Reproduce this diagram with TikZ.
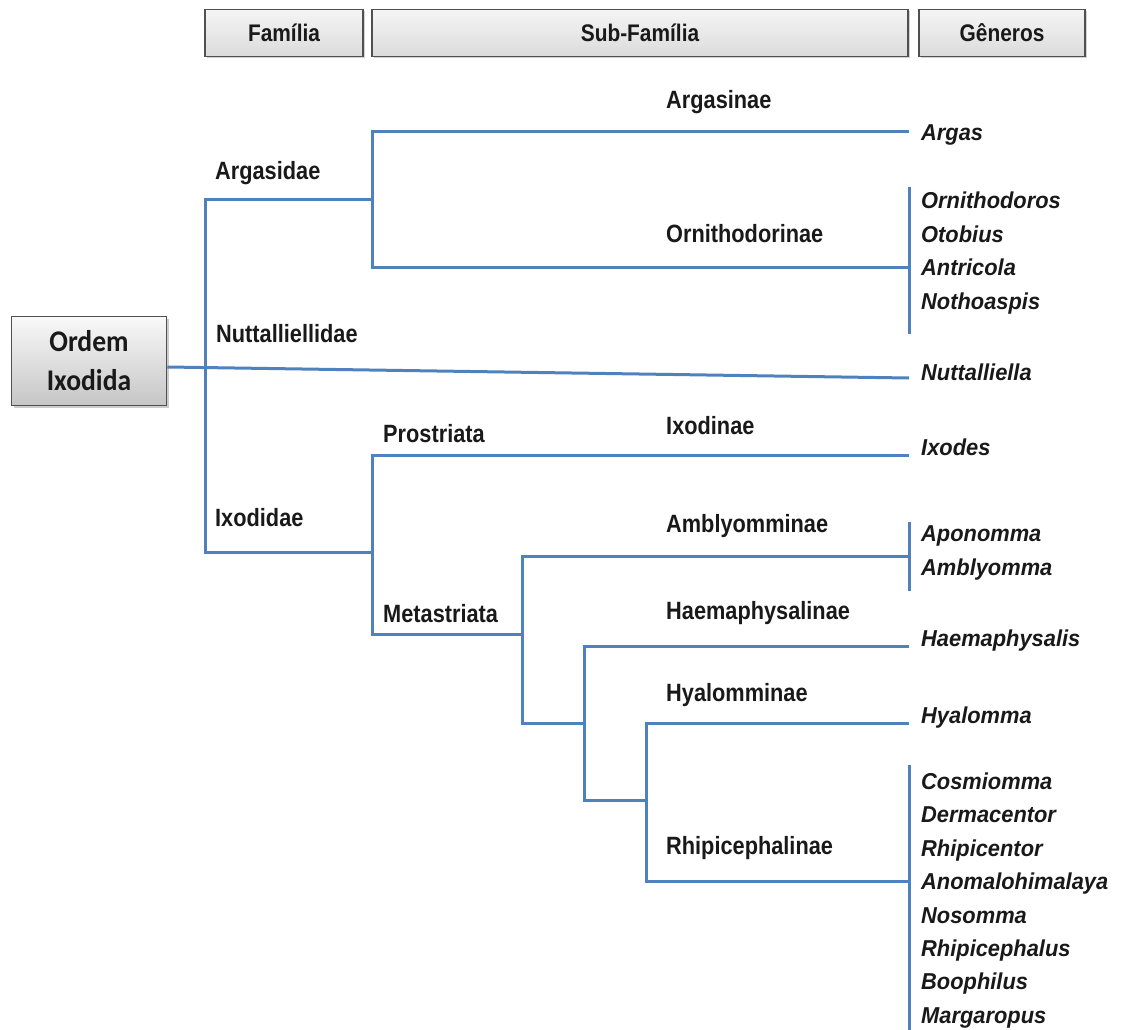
\documentclass[tikz,border=0pt]{standalone}
\usepackage{fontspec}
\usepackage{tikz}
\usetikzlibrary{calc,shadows}
\newfontfamily\lblfont{Liberation Sans}[FakeStretch=0.87]
\newfontfamily\genfont{Liberation Sans}[FakeStretch=0.95]
\newfontfamily\boxfont{Carlito}[FakeStretch=0.92]
\definecolor{brblue}{HTML}{4F81BD}
\definecolor{boxline}{HTML}{505050}

\begin{document}
\begin{tikzpicture}[
x=1pt,y=-1pt,
every node/.style={inner sep=0pt,text=black!90},
br/.style={line width=3pt,color=brblue},
hdr/.style={draw=boxline,line width=1.8pt,top color=gray!8,bottom color=gray!28,
  minimum height=47pt,font=\lblfont\bfseries\fontsize{24}{28}\selectfont,
  drop shadow={shadow xshift=1.5pt,shadow yshift=-1.5pt,opacity=0.35}},
ordem/.style={draw=boxline,line width=1.8pt,top color=gray!5,bottom color=gray!45,
  minimum width=155pt,minimum height=89pt,align=center,
  font=\boxfont\bfseries\fontsize{30}{39}\selectfont,
  drop shadow={shadow xshift=2pt,shadow yshift=-2pt,opacity=0.4}},
lbl/.style={anchor=west,text height=18pt,text depth=0pt,
  font=\lblfont\bfseries\fontsize{25}{30}\selectfont},
gen/.style={anchor=west,text height=17pt,text depth=0pt,
  font=\genfont\bfseries\itshape\fontsize{23}{28}\selectfont}
]
\useasboundingbox (0,0) rectangle (1121,1030);

% headers
\node[hdr,minimum width=158pt] (hfam) at (284,33) {Família};
\node[hdr,minimum width=536pt] (hsub) at (640,33) {Sub-Família};
\node[hdr,minimum width=166pt] (hgen) at (1002,33) {Gêneros};

\node[ordem] (ord) at (89,361) {Ordem\\Ixodida};

% branch points
\coordinate (fa) at (205,199);
\coordinate (fb) at (205,552);
\coordinate (arg) at (372,199);
\coordinate (ixo) at (372,552);
\coordinate (met) at (522,634);
\coordinate (hae) at (584,723);
\coordinate (hya) at (646,800);
% branch ends
\coordinate (e1) at (909,132);
\coordinate (e2) at (909,267);
\coordinate (e3) at (909,378);
\coordinate (e4) at (909,455);
\coordinate (e5) at (909,556);
\coordinate (e6) at (909,646);
\coordinate (e7) at (909,723);
\coordinate (e8) at (909,881);

% families and sub-families
\node[lbl] (argd) at (215,170) {Argasidae};
\node[lbl] (nutd) at (216,333) {Nuttalliellidae};
\node[lbl] (ixod) at (215,517) {Ixodidae};
\node[lbl] (argn) at (666,100) {Argasinae};
\node[lbl] (ornn) at (666,233) {Ornithodorinae};
\node[lbl] (pros) at (383,433) {Prostriata};
\node[lbl] (ixon) at (666,425) {Ixodinae};
\node[lbl] (meta) at (383,613) {Metastriata};
\node[lbl] (ambn) at (666,523) {Amblyomminae};
\node[lbl] (haen) at (666,610) {Haemaphysalinae};
\node[lbl] (hyan) at (666,692) {Hyalomminae};
\node[lbl] (rhin) at (666,845) {Rhipicephalinae};

% genera
\node[gen] (args) at (921,132) {Argas};
\foreach \g [count=\i from 0] in {Ornithodoros,Otobius,Antricola,Nothoaspis}
  \node[gen] (orn\i) at (921,{200+33.5*\i}) {\g};
\node[gen] (nuta) at (921,372) {Nuttalliella};
\node[gen] (ixos) at (921,447) {Ixodes};
\foreach \g [count=\i from 0] in {Aponomma,Amblyomma}
  \node[gen] (amb\i) at (921,{533+34*\i}) {\g};
\node[gen] (haes) at (921,638) {Haemaphysalis};
\node[gen] (hyas) at (921,715) {Hyalomma};
\foreach \g [count=\i from 0] in {Cosmiomma,Dermacentor,Rhipicentor,Anomalohimalaya,
    Nosomma,Rhipicephalus,Boophilus,Margaropus}
  \node[gen] (rhi\i) at (921,{781+33.4*\i}) {\g};

% tree
\draw[br] (arg) -- (fa) -- (fb) -- (ixo);
\draw[br] ($(ord.east)+(0,6)$) -- (e3);
\draw[br] (e1) -| (arg) |- (e2);
\draw[br] (e4) -| (ixo) |- (met);
\draw[br] (e5) -| (met) |- (hae);
\draw[br] (e6) -| (hae) |- (hya);
\draw[br] (e7) -| (hya) |- (e8);

% brackets
\draw[br] ($(orn0.north west)+(-12,-4)$) -- ($(orn3.south west)+(-12,25)$);
\draw[br] ($(amb0.north west)+(-12,-2)$) -- ($(amb1.south west)+(-12,15)$);
\draw[br] ($(rhi0.north west)+(-12,-7)$) -- ($(rhi7.south west)+(-12,8)$);
\end{tikzpicture}
\end{document}
